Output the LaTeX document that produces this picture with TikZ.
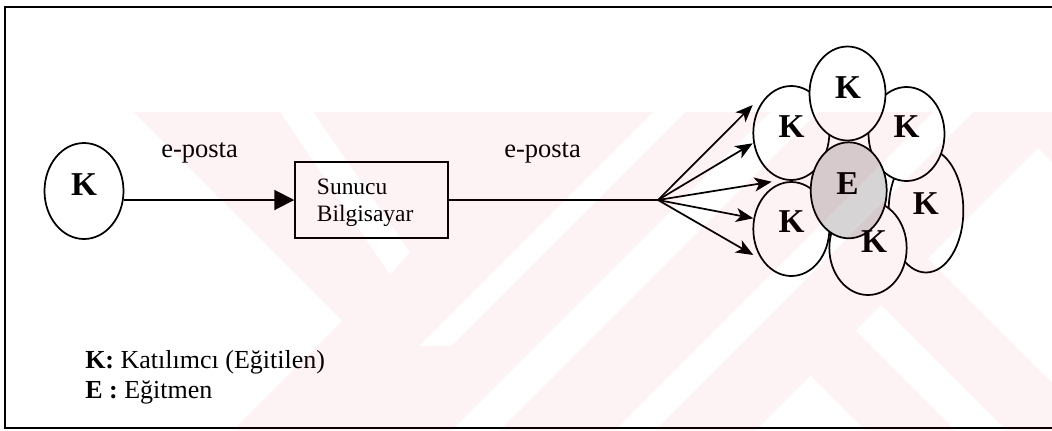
\documentclass[tikz,border=0pt]{standalone}
\usepackage{fontspec}
\setmainfont{Liberation Serif}
\usetikzlibrary{shapes.geometric,arrows.meta}
\definecolor{wmred}{RGB}{220,20,60}
\definecolor{egray}{RGB}{214,212,213}
\begin{document}
\begin{tikzpicture}[x=0.75pt,y=-0.75pt,
  kell/.style={draw, line width=1.3pt, ellipse, fill=white, minimum width=57pt, minimum height=70.5pt, inner sep=0pt},
  klet/.style={font=\fontsize{25}{28}\selectfont\bfseries, inner sep=0pt},
  elbl/.style={font=\fontsize{19.9}{24}\selectfont, inner sep=0pt, anchor=base west},
  boxtxt/.style={font=\fontsize{17.6}{21}\selectfont, inner sep=0pt, anchor=base west},
  legtxt/.style={font=\fontsize{19.5}{23}\selectfont, inner sep=0pt, anchor=base west},
  conn/.style={line width=1.5pt},
  bigtip/.style={conn, -{Triangle[length=15pt,width=15pt]}},
  fantip/.style={line width=1.3pt, -{Stealth[length=13pt,width=10.5pt,inset=3.5pt]}},
  wm/.style={fill=wmred, fill opacity=0.05, even odd rule}
]
\useasboundingbox (0,0) rectangle (1052,430);

% frame
\draw[line width=1.5pt] (1052,7) -- (5,7) -- (5,428) -- (1052,428);

% left participant
\node[kell, minimum width=59.25pt, minimum height=72pt] (kl) at (84,191) {};
\node[klet] (kll) at (84.2,185) {K};

% server box
\node[draw, line width=1.4pt, minimum width=114.75pt, minimum height=57.5pt, inner sep=0pt] (box) at (371.7,200) {};
\node[boxtxt] (sunucu) at (316.7,194.3) {Sunucu};
\node[boxtxt] (bilgisayar) at (316.7,221) {Bilgisayar};

% labels
\node[elbl] (ep1) at (161,157) {e-posta};
\node[elbl] (ep2) at (504,157) {e-posta};

% connectors
\draw[bigtip] (box.west -| kl.east) -- (box.west);
\coordinate (fan) at (658,200);
\draw[conn] (box.east) -- (fan);
\coordinate (t1) at (752.7,105);
\coordinate (t2) at (752.7,143.3);
\coordinate (t3) at (771.7,181.7);
\coordinate (t4) at (753.3,218.3);
\coordinate (t5) at (753.3,255);
\foreach \t in {t1,t2,t3,t4,t5} \draw[fantip] (fan) -- (\t);

% group of participants
\node[kell, minimum width=56pt, minimum height=93pt] (kR) at (926,210.5) {};
\node[kell, minimum width=58pt] (kB) at (868,248) {};
\node[kell] (kLL) at (791.3,229) {};
\node[kell] (kUL) at (791.3,133) {};
\node[kell] (kUR) at (906.5,134) {};
\node[kell] (kT) at (847.5,93.5) {};
\node[kell, fill=egray, minimum height=72pt] (eC) at (848.7,190.3) {};

\node[klet] (lUL) at (791.7,127) {K};
\node[klet] (lT) at (848,87.5) {K};
\node[klet] (lUR) at (906.7,127) {K};
\node[klet] (lE) at (847.5,183.3) {E};
\node[klet] (lR) at (925.8,203.3) {K};
\node[klet] (lLL) at (791.7,221.2) {K};
\node[klet] (lB) at (874,241.7) {K};

% legend
\node[legtxt] (legk) at (85,368) {\textbf{K:} Katılımcı (Eğitilen)};
\node[legtxt] (lege) at (85,398) {\textbf{E :} Eğitmen};

% watermark
\fill[wm]
 (133,112) -- (1052,112) -- (1052,430) -- (233,430) -- (342,321) -- cycle
 (280,112) -- (313,112) -- (410,252) -- (390,275) -- cycle
 (653,112) -- (685,112) -- (451,346) -- (419,346) -- cycle
 (770,112) -- (818,112) -- (500,430) -- (452,430) -- cycle
 (933,112) -- (973,112) -- (655,430) -- (615,430) -- cycle
 (810.5,375.5) -- (865,430) -- (756,430) -- cycle
 (855.5,330.5) -- (881,305) -- (1006,430) -- (955,430) -- cycle
 (927.5,258.5) -- (1038,148) -- (1052,162) -- (1052,383) -- cycle;
\end{tikzpicture}
\end{document}
